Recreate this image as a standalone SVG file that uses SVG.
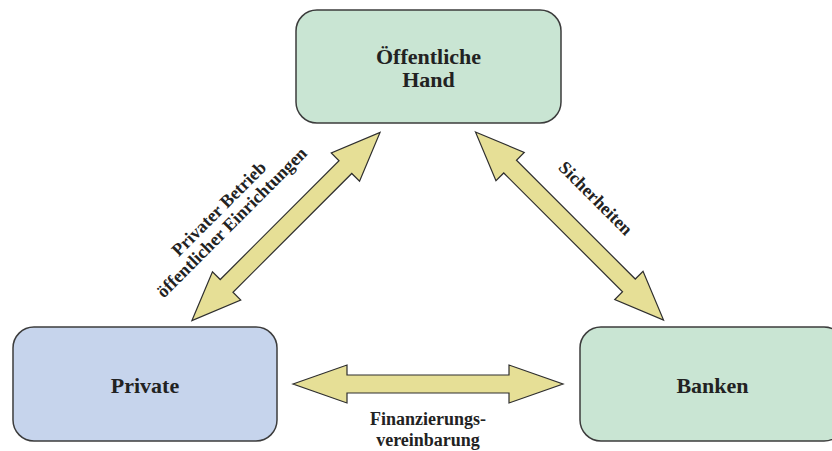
<svg xmlns="http://www.w3.org/2000/svg" width="832" height="451" viewBox="0 0 832 451">
  <style>
    .box { stroke: #3c3c3c; stroke-width: 1.5; }
    .green { fill: #c9e5d3; }
    .blue { fill: #c6d4ec; }
    .title { font-family: "Liberation Serif", "Times New Roman", serif; font-weight: bold; font-size: 22px; fill: #222; text-anchor: middle; }
    .label { font-family: "Liberation Serif", "Times New Roman", serif; font-weight: bold; font-size: 18px; fill: #222; text-anchor: middle; }
    .arrow { fill: #e6df96; stroke: #2e2e2e; stroke-width: 1.2; stroke-linejoin: miter; }
  </style>
  <defs>
    <!-- double-headed block arrow, centred on the origin, pointing along x -->
    <polygon id="dbl266" points="-133,0 -84,-20 -84,-9 84,-9 84,-20 133,0 84,20 84,9 -84,9 -84,20"/>
    <polygon id="dbl270" points="-135,0 -81,-19 -81,-9 81,-9 81,-19 135,0 81,19 81,9 -81,9 -81,19"/>
  </defs>
  <rect width="832" height="451" fill="#ffffff"/>

  <g id="connectors">
    <use href="#dbl266" class="arrow" transform="translate(286,226.5) rotate(-45)"/>
    <use href="#dbl266" class="arrow" transform="translate(569.5,226) rotate(45)"/>
    <use href="#dbl270" class="arrow" transform="translate(428,384)"/>
    <text class="label" transform="translate(223,213) rotate(-45)">Privater Betrieb</text>
    <text class="label" transform="translate(236,226.5) rotate(-45)">öffentlicher Einrichtungen</text>
    <text class="label" transform="translate(591.5,202.5) rotate(45)">Sicherheiten</text>
    <text class="label" x="428" y="425">Finanzierungs-</text>
    <text class="label" x="428" y="446">vereinbarung</text>
  </g>

  <g id="oeffentliche-hand">
    <rect class="box green" x="296" y="10" width="265" height="113" rx="21"/>
    <text class="title" x="428.5" y="64">Öffentliche</text>
    <text class="title" x="428.5" y="87">Hand</text>
  </g>

  <g id="private">
    <rect class="box blue" x="13" y="327" width="264" height="114" rx="21"/>
    <text class="title" x="145" y="393">Private</text>
  </g>

  <g id="banken">
    <rect class="box green" x="580" y="327" width="265" height="114" rx="21"/>
    <text class="title" x="712.5" y="393">Banken</text>
  </g>
</svg>
